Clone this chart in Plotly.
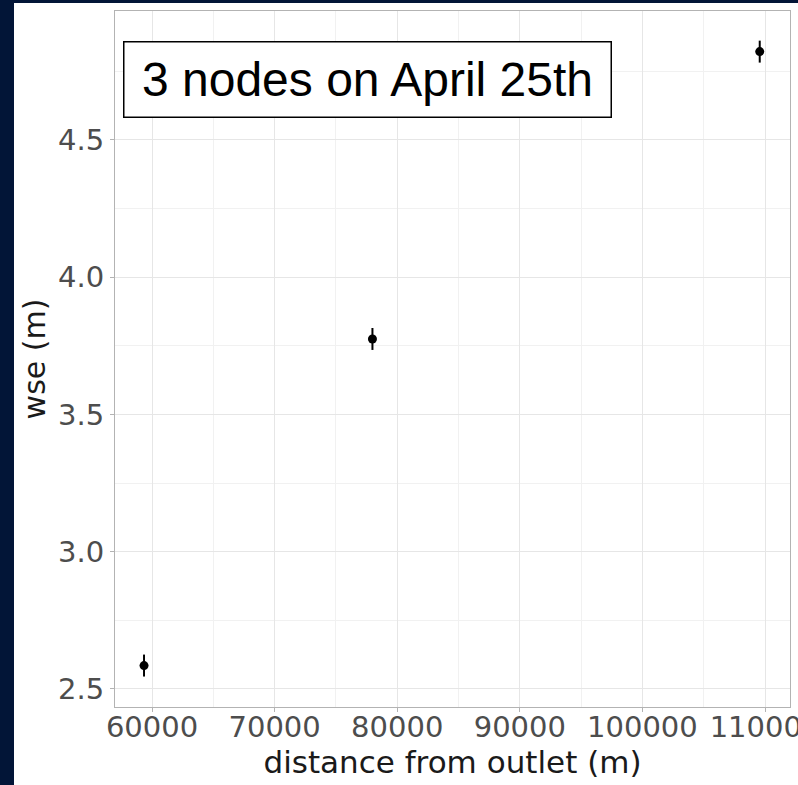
import plotly.graph_objects as go

# Water surface elevation at three nodes
distance_m = [59350, 77980, 109570]
wse_m = [2.585, 3.775, 4.822]
wse_err = [0.04, 0.04, 0.04]

x_ticks = [60000, 70000, 80000, 90000, 100000, 110000]
y_ticks = [2.5, 3.0, 3.5, 4.0, 4.5]

W, H = 798, 785
L, R, T, B = 115, 8, 11, 78
pw, ph = W - L - R, H - T - B

NAVY = "#021537"
GRID = "#e6e6e6"
MINOR = "#f1f1f1"
FRAME = "#b3b3b3"

fig = go.Figure()
fig.add_trace(go.Scatter(
    x=distance_m, y=wse_m, mode="markers",
    marker=dict(color="black", size=9),
    error_y=dict(type="data", array=wse_err, visible=True,
                 color="black", thickness=2, width=0),
    showlegend=False,
))

# White page over the navy backdrop (navy strips on the left and top)
fig.add_shape(type="rect", xref="paper", yref="paper",
              x0=(14 - L) / pw, x1=(W - L) / pw,
              y0=-B / ph, y1=(ph + T - 3) / ph,
              fillcolor="white", line=dict(width=0), layer="below")

fig.add_annotation(
    xref="paper", yref="paper",
    x=(367.5 - L) / pw, y=(H - B - 79.5) / ph,
    xanchor="center", yanchor="middle",
    text="3 nodes on April 25th", showarrow=False,
    font=dict(family="Liberation Sans, Arial", size=48, color="black"),
    bgcolor="white", bordercolor="black", borderwidth=1.5, borderpad=0,
    width=486, height=74,
)

axis_common = dict(
    showline=True, mirror=True, linecolor=FRAME, linewidth=1,
    ticks="outside", ticklen=4, tickcolor=FRAME, tickwidth=1,
    showgrid=True, gridcolor=GRID, gridwidth=1, zeroline=False,
    tickfont=dict(family="DejaVu Sans", size=29, color="#4d4d4d"),
    ticklabeloverflow="allow",
)

fig.update_xaxes(
    **axis_common,
    range=[56982, 112039], tickvals=x_ticks, tickformat="d",
    ticklabelstandoff=-10,
    minor=dict(dtick=5000, tick0=55000, showgrid=True, gridcolor=MINOR, gridwidth=1, ticks=""),
    title=dict(text="distance from outlet (m)", standoff=2,
               font=dict(family="DejaVu Sans", size=31, color="#1a1a1a")),
)
fig.update_yaxes(
    **axis_common,
    range=[2.434, 4.97], tickvals=y_ticks, tickformat=".1f",
    minor=dict(dtick=0.25, tick0=2.25, showgrid=True, gridcolor=MINOR, gridwidth=1, ticks=""),
    title=dict(text="wse (m)", standoff=3,
               font=dict(family="DejaVu Sans", size=30, color="#1a1a1a")),
)

fig.update_layout(
    width=W, height=H,
    margin=dict(l=L, r=R, t=T, b=B, autoexpand=False),
    paper_bgcolor=NAVY, plot_bgcolor="white",
)

fig.write_html("out.html")
